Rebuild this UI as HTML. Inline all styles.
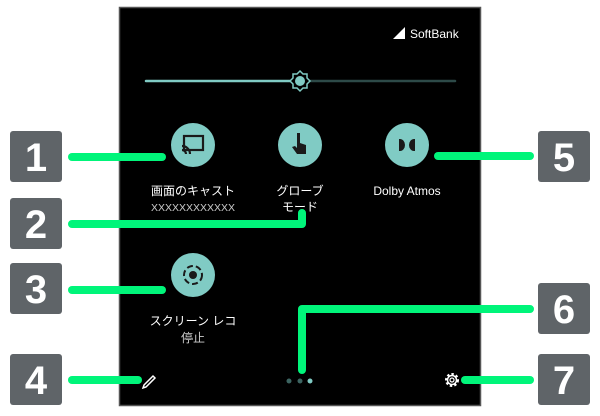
<!DOCTYPE html>
<html><head><meta charset="utf-8"><style>
html,body{margin:0;padding:0;background:#fff;width:600px;height:416px;overflow:hidden}
svg{display:block}
text{font-family:"Liberation Sans","Noto Sans CJK JP",sans-serif}
</style></head><body>
<svg width="600" height="416" viewBox="0 0 600 416" xmlns="http://www.w3.org/2000/svg">
<rect x="119.5" y="7.5" width="361" height="398" fill="#000" stroke="#555" stroke-width="1.5"/>
<!-- status -->
<polygon points="393,39 405,27 405,39" fill="#fff"/>
<text x="410" y="38" font-size="12" fill="#fff">SoftBank</text>
<!-- slider -->
<line x1="146" y1="81" x2="300" y2="81" stroke="#80cbc4" stroke-width="2.5" stroke-linecap="round"/>
<line x1="300" y1="81" x2="455" y2="81" stroke="#2d4a48" stroke-width="2.5" stroke-linecap="round"/>
<g transform="translate(300,81)">
<polygon points="0,-10 3,-7 7,-7 7,-3 10,0 7,3 7,7 3,7 0,10 -3,7 -7,7 -7,3 -10,0 -7,-3 -7,-7 -3,-7" fill="#000" stroke="#80cbc4" stroke-width="1.5"/>
<circle r="5" fill="#80cbc4"/>
</g>
<!-- tiles -->
<circle cx="193" cy="145" r="22" fill="#80cbc4"/>
<rect x="184" y="136" width="19" height="14" fill="none" stroke="#1a1a1a" stroke-width="2.2"/>
<path d="M182,146 a8,8 0 0 1 8,8 M182,150 a4,4 0 0 1 4,4" fill="none" stroke="#1a1a1a" stroke-width="2.2"/>
<circle cx="300" cy="145" r="22" fill="#80cbc4"/>
<path d="M297,133 h3 v10 l6,2 v9 h-9 l-5,-7 l3,-1 l2,2z" fill="#1a1a1a"/>
<circle cx="407" cy="145" r="22" fill="#80cbc4"/>
<path d="M399,139 h1 a5,6 0 0 1 0,12 h-1z M415,139 h-1 a5,6 0 0 0 0,12 h1z" fill="#1a1a1a"/>
<circle cx="193" cy="275" r="22" fill="#80cbc4"/>
<circle cx="193" cy="275" r="9" fill="none" stroke="#1a1a1a" stroke-width="2" stroke-dasharray="6 3"/>
<circle cx="193" cy="275" r="4" fill="#1a1a1a"/>
<text x="193" y="195" font-size="12" fill="#fff" text-anchor="middle">画面のキャスト</text>
<text x="193" y="211" font-size="10.5" fill="#ccc" text-anchor="middle">XXXXXXXXXXXX</text>
<text x="300" y="195" font-size="12" fill="#fff" text-anchor="middle">グローブ</text>
<text x="300" y="211" font-size="12" fill="#fff" text-anchor="middle">モード</text>
<text x="407" y="195" font-size="12" fill="#fff" text-anchor="middle">Dolby Atmos</text>
<text x="193" y="325" font-size="12" fill="#fff" text-anchor="middle">スクリーン レコ</text>
<text x="193" y="342" font-size="12" fill="#ccc" text-anchor="middle">停止</text>
<!-- bottom bar -->
<path d="M144,385 l9,-9 2,2 -9,9 -3,1z" fill="none" stroke="#fff" stroke-width="1.5"/>
<circle cx="289" cy="381" r="2.5" fill="#3c6461"/>
<circle cx="300" cy="381" r="2.5" fill="#3c6461"/>
<circle cx="310" cy="381" r="2.5" fill="#80cbc4"/>
<circle cx="452" cy="380" r="5.5" fill="none" stroke="#fff" stroke-width="3" stroke-dasharray="2.2 2"/>
<circle cx="452" cy="380" r="4.5" fill="none" stroke="#fff" stroke-width="1.5"/>
<circle cx="452" cy="380" r="2" fill="none" stroke="#fff" stroke-width="1.2"/>
<!-- leader lines -->
<g stroke="#00f57a" stroke-width="8" stroke-linecap="round" stroke-linejoin="round" fill="none">
<line x1="72" y1="157" x2="162" y2="157"/>
<polyline points="72,224 302,224 302,213"/>
<line x1="72" y1="290" x2="162" y2="290"/>
<line x1="72" y1="380" x2="138" y2="380"/>
<line x1="438" y1="156" x2="530" y2="156"/>
<polyline points="530,309 302,309 302,370"/>
<line x1="465" y1="380" x2="530" y2="380"/>
</g>
<!-- badges -->
<g fill="#5f6468">
<rect x="10" y="131" width="52" height="51" rx="3"/>
<rect x="10" y="198" width="52" height="51" rx="3"/>
<rect x="10" y="263" width="52" height="51" rx="3"/>
<rect x="10" y="354" width="52" height="51" rx="3"/>
<rect x="538" y="131" width="52" height="51" rx="3"/>
<rect x="538" y="283" width="52" height="51" rx="3"/>
<rect x="538" y="354" width="52" height="51" rx="3"/>
</g>
<g fill="#fff" font-size="40" font-weight="bold" text-anchor="middle">
<text x="36" y="171">1</text>
<text x="36" y="238">2</text>
<text x="36" y="303">3</text>
<text x="36" y="394">4</text>
<text x="564" y="171">5</text>
<text x="564" y="323">6</text>
<text x="564" y="394">7</text>
</g>
</svg>
</body></html>
